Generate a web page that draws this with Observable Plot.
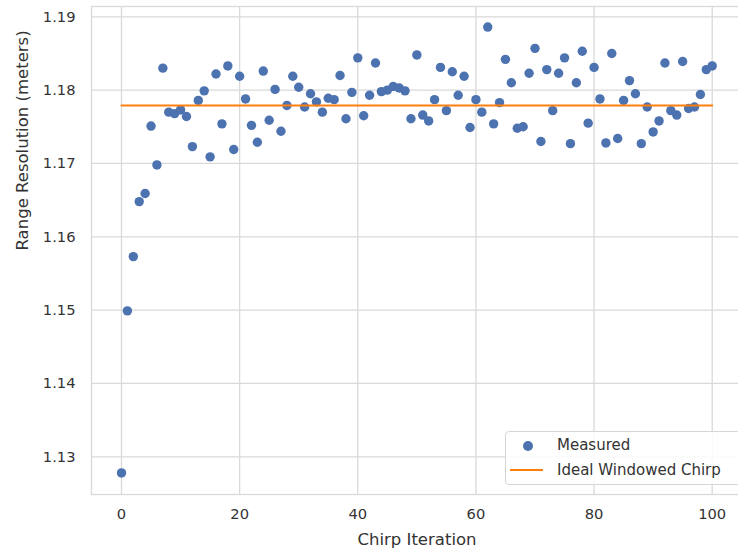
<!DOCTYPE html>
<html>
<head>
<meta charset="utf-8">
<script src="https://cdn.jsdelivr.net/npm/d3@7"></script>
<script src="https://cdn.jsdelivr.net/npm/@observablehq/plot@0.6"></script>
<style>
  html, body { margin: 0; padding: 0; background: #fff; }
  #wrap { position: relative; width: 738px; height: 557px; overflow: hidden; font-family: "DejaVu Sans", sans-serif; }
  #legend {
    position: absolute; left: 505px; top: 431px; width: 236px; height: 54px;
    border: 1px solid #d6d6d6; border-radius: 4px; background: rgba(255,255,255,0.85);
    box-sizing: border-box; color: #333333; font-size: 15px;
  }
  .row { position: absolute; left: 0; height: 20px; display: flex; align-items: center; }
  .row svg { position: absolute; left: 0; top: 0; }
  .row span { position: absolute; left: 51px; white-space: nowrap; line-height: 20px; }
</style>
</head>
<body>
<div id="wrap">
  <div id="chart"></div>
  <div id="legend">
    <div class="row" style="top:3px;">
      <svg width="45" height="20"><circle cx="22" cy="11" r="5" fill="#4c72b0"></circle></svg>
      <span id="lab0"></span>
    </div>
    <div class="row" style="top:28px;">
      <svg width="45" height="20"><line x1="4" x2="37" y1="10" y2="10" stroke="#ff7f0e" stroke-width="2"></line></svg>
      <span id="lab1"></span>
    </div>
  </div>
</div>
<script>
// ---- data ----
const measured = [
  1.1278, 1.1499, 1.1573, 1.1648, 1.1659, 1.1751, 1.1698, 1.1830, 1.1770, 1.1768,
  1.1773, 1.1764, 1.1723, 1.1786, 1.1799, 1.1709, 1.1822, 1.1754, 1.1833, 1.1719,
  1.1819, 1.1788, 1.1752, 1.1729, 1.1826, 1.1759, 1.1801, 1.1744, 1.1779, 1.1819,
  1.1804, 1.1777, 1.1795, 1.1784, 1.1770, 1.1789, 1.1787, 1.1820, 1.1761, 1.1797,
  1.1844, 1.1765, 1.1793, 1.1837, 1.1798, 1.1800, 1.1805, 1.1803, 1.1799, 1.1761,
  1.1848, 1.1766, 1.1758, 1.1787, 1.1831, 1.1772, 1.1825, 1.1793, 1.1819, 1.1749,
  1.1787, 1.1770, 1.1886, 1.1754, 1.1783, 1.1842, 1.1810, 1.1748, 1.1750, 1.1823,
  1.1857, 1.1730, 1.1828, 1.1772, 1.1823, 1.1844, 1.1727, 1.1810, 1.1853, 1.1755,
  1.1831, 1.1788, 1.1728, 1.1850, 1.1734, 1.1786, 1.1813, 1.1795, 1.1727, 1.1777,
  1.1743, 1.1758, 1.1837, 1.1772, 1.1766, 1.1839, 1.1775, 1.1777, 1.1794, 1.1828,
  1.1833
];
const idealX = [0, 100];
const idealValue = 1.1779;
const seriesNames = ["Measured", "Ideal Windowed Chirp"];
const xTicks = [0, 20, 40, 60, 80, 100];
const yTicks = [1.13, 1.14, 1.15, 1.16, 1.17, 1.18, 1.19];
const xLabel = "Chirp Iteration";
const yLabel = "Range Resolution (meters)";

const points = measured.map((v, i) => ({iteration: i, value: v}));
const ideal = idealX.map(x => ({iteration: x, value: idealValue}));

document.getElementById("lab0").textContent = seriesNames[0];
document.getElementById("lab1").textContent = seriesNames[1];

const gridColor = "#d9d9d9";
const textColor = "#333333";

const chart = Plot.plot({
  width: 738,
  height: 557,
  marginLeft: 91,
  marginRight: -4,
  marginTop: 6,
  marginBottom: 63,
  style: {fontFamily: "DejaVu Sans, sans-serif", fontSize: "14.7px", color: textColor, background: "#fff"},
  x: {domain: [0, 100], range: [121, 711.7]},
  y: {domain: [1.13, 1.19], range: [456.3, 16.3]},
  marks: [
    Plot.gridX(xTicks, {stroke: gridColor, strokeOpacity: 1, strokeWidth: 1.3}),
    Plot.gridY(yTicks, {stroke: gridColor, strokeOpacity: 1, strokeWidth: 1.3}),
    Plot.frame({stroke: gridColor, strokeWidth: 1.3}),
    Plot.axisX(xTicks, {tickSize: 0, tickPadding: 14, label: null, fill: textColor, fontSize: 14.7}),
    Plot.axisY(yTicks, {tickSize: 0, tickPadding: 16, label: null, tickFormat: d3.format(".2f"), fill: textColor, fontSize: 14.7}),
    Plot.text([xLabel], {frameAnchor: "bottom", dy: 50, fill: textColor, fontSize: 16.5}),
    Plot.text([yLabel], {frameAnchor: "left", dx: -69, rotate: -90, fill: textColor, fontSize: 16.5}),
    Plot.dot(points, {x: "iteration", y: "value", r: 4.7, fill: "#4c72b0", stroke: "none"}),
    Plot.line(ideal, {x: "iteration", y: "value", stroke: "#ff7f0e", strokeWidth: 2.1})
  ]
});
document.getElementById("chart").appendChild(chart);
</script>
</body>
</html>
